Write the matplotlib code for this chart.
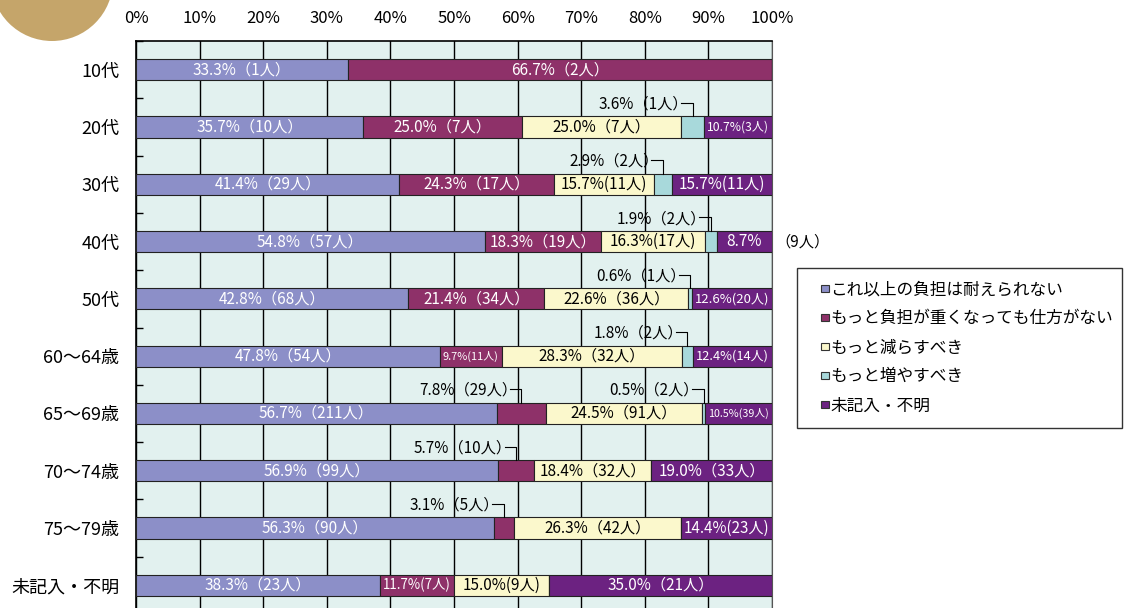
import matplotlib
matplotlib.use('Agg')
import matplotlib.pyplot as plt
from matplotlib.patches import Patch, Ellipse, Rectangle
from matplotlib.legend_handler import HandlerBase
import numpy as np

plt.rcParams['font.family'] = ['Noto Sans CJK JP', 'DejaVu Sans']

categories = ['10代', '20代', '30代', '40代', '50代', '60～64歳', '65～69歳',
              '70～74歳', '75～79歳', '未記入・不明']
series_names = ['これ以上の負担は耐えられない', 'もっと負担が重くなっても仕方がない',
                'もっと減らすべき', 'もっと増やすべき', '未記入・不明']

pct_cannot = [33.3, 35.7, 41.4, 54.8, 42.8, 47.8, 56.7, 56.9, 56.3, 38.3]
n_cannot = [1, 10, 29, 57, 68, 54, 211, 99, 90, 23]
pct_accept = [66.7, 25.0, 24.3, 18.3, 21.4, 9.7, 7.8, 5.7, 3.1, 11.7]
n_accept = [2, 7, 17, 19, 34, 11, 29, 10, 5, 7]
pct_reduce = [0, 25.0, 15.7, 16.3, 22.6, 28.3, 24.5, 18.4, 26.3, 15.0]
n_reduce = [0, 7, 11, 17, 36, 32, 91, 32, 42, 9]
pct_increase = [0, 3.6, 2.9, 1.9, 0.6, 1.8, 0.5, 0, 0, 0]
n_increase = [0, 1, 2, 2, 1, 2, 2, 0, 0, 0]
pct_unknown = [0, 10.7, 15.7, 8.7, 12.6, 12.4, 10.5, 19.0, 14.4, 35.0]
n_unknown = [0, 3, 11, 9, 20, 14, 39, 33, 23, 21]

x_ticks = [0, 10, 20, 30, 40, 50, 60, 70, 80, 90, 100]

colors = ['#8C8FC8', '#8E3169', '#FBF8CC', '#A8D9DB', '#6C2281']
text_colors = ['white', 'white', 'black', 'black', 'white']
bg_color = '#E2F1EF'


class SquareHandler(HandlerBase):
    # small square marker sitting at the right end of the handle box
    def create_artists(self, legend, orig_handle, xdescent, ydescent,
                       width, height, fontsize, trans):
        s = 0.45 * fontsize
        r = Rectangle((width - s - xdescent, (height - s) / 2 - ydescent), s, s,
                      facecolor=orig_handle.get_facecolor(),
                      edgecolor='#333333', linewidth=0.8, transform=trans)
        return [r]


W, H = 1131, 608
fig = plt.figure(figsize=(W / 100, H / 100), dpi=100)
fig.patch.set_facecolor('white')

# axes runs past the bottom edge, like the cropped original
ax_top = 1 - 41 / H
ax_bot = -6 / H
ax = fig.add_axes([136 / W, ax_bot, 636 / W, ax_top - ax_bot])
ax.set_facecolor(bg_color)
ax_px = 636

y = np.arange(len(categories))
bar_h = 0.37
pcts = [pct_cannot, pct_accept, pct_reduce, pct_increase, pct_unknown]
counts = [n_cannot, n_accept, n_reduce, n_increase, n_unknown]

fit_texts = []
left = np.zeros(len(categories))
for k in range(5):
    vals = np.array(pcts[k])
    ax.barh(y, vals, left=left, height=bar_h, color=colors[k],
            edgecolor='#222222', linewidth=0.8, zorder=3)
    for i, v in enumerate(vals):
        if v <= 0:
            continue
        xc = left[i] + v / 2
        label = f'{v:.1f}%（{counts[k][i]}人）'
        if k in (1, 3) and v < 9:
            # callout above the bar with bracket line
            ax.text(xc - 0.7, i - 0.40, label, ha='right', va='center',
                    fontsize=11, color='black', zorder=5)
            ax.plot([xc - 1.8, xc, xc], [i - 0.42, i - 0.42, i - bar_h / 2],
                    color='black', linewidth=0.8, zorder=5, clip_on=False)
        elif k == 4 and v < 9:
            t = ax.text(xc, i, f'{v:.1f}%', ha='center', va='center',
                        fontsize=11, color=text_colors[k], zorder=5)
            fit_texts.append((t, v, None))
            ax.text(100.6, i, f'（{counts[k][i]}人）', ha='left', va='center',
                    fontsize=11, color='black', zorder=5, clip_on=False)
        else:
            t = ax.text(xc, i, label, ha='center', va='center', fontsize=11,
                        color=text_colors[k], zorder=5)
            fit_texts.append((t, v, f'{v:.1f}%({counts[k][i]}人)'))
    left += vals

ax.set_xlim(0, 100)
ax.set_ylim(len(categories) - 0.5, -0.5)
ax.set_xticks(x_ticks)
ax.set_xticklabels([f'{t}%' for t in x_ticks], fontsize=12)
ax.xaxis.tick_top()
ax.tick_params(axis='x', length=0, pad=10)
ax.set_yticks(y)
ax.set_yticklabels(categories, fontsize=13)
ax.set_yticks(np.arange(-0.5, len(categories), 1.0), minor=True)
ax.tick_params(axis='y', which='major', length=0, pad=12)
ax.tick_params(axis='y', which='minor', direction='in', length=5, width=1)
ax.grid(axis='x', color='black', linewidth=1, zorder=1)
ax.set_axisbelow(True)
for s in ['left', 'top']:
    ax.spines[s].set_color('black')
    ax.spines[s].set_linewidth(1.2)
ax.spines['right'].set_color('#555555')
ax.spines['bottom'].set_visible(False)

handles = [Patch(facecolor=c) for c in colors]
lx0, ly0 = 797 / W, 1 - 428 / H
fig.legend(handles, series_names, loc='upper left', mode='expand',
           bbox_to_anchor=(lx0, ly0, 1122 / W - lx0, 1 - 268 / H - ly0),
           borderaxespad=0, fontsize=12, frameon=True, fancybox=False,
           edgecolor='black', handlelength=1.1, handleheight=0.7,
           handletextpad=0.1, labelspacing=0.72, borderpad=0.8,
           handler_map={Patch: SquareHandler()})

# decorative gold circle in the corner
fig.add_artist(Ellipse((52 / W, 1 + 20 / H), 122 / W, 122 / H,
                       transform=fig.transFigure, facecolor='#C5A56A',
                       edgecolor='none'))

# tight segments get half-width brackets, then shrink whatever still overflows
fig.canvas.draw()
renderer = fig.canvas.get_renderer()
for t, v, narrow in fit_texts:
    avail = v / 100 * ax_px - 6
    w = t.get_window_extent(renderer).width
    if w > avail and narrow is not None:
        t.set_text(narrow)
        w = t.get_window_extent(renderer).width
    if w > avail:
        t.set_fontsize(t.get_fontsize() * avail / w)

fig.savefig('out.png', dpi=100)
